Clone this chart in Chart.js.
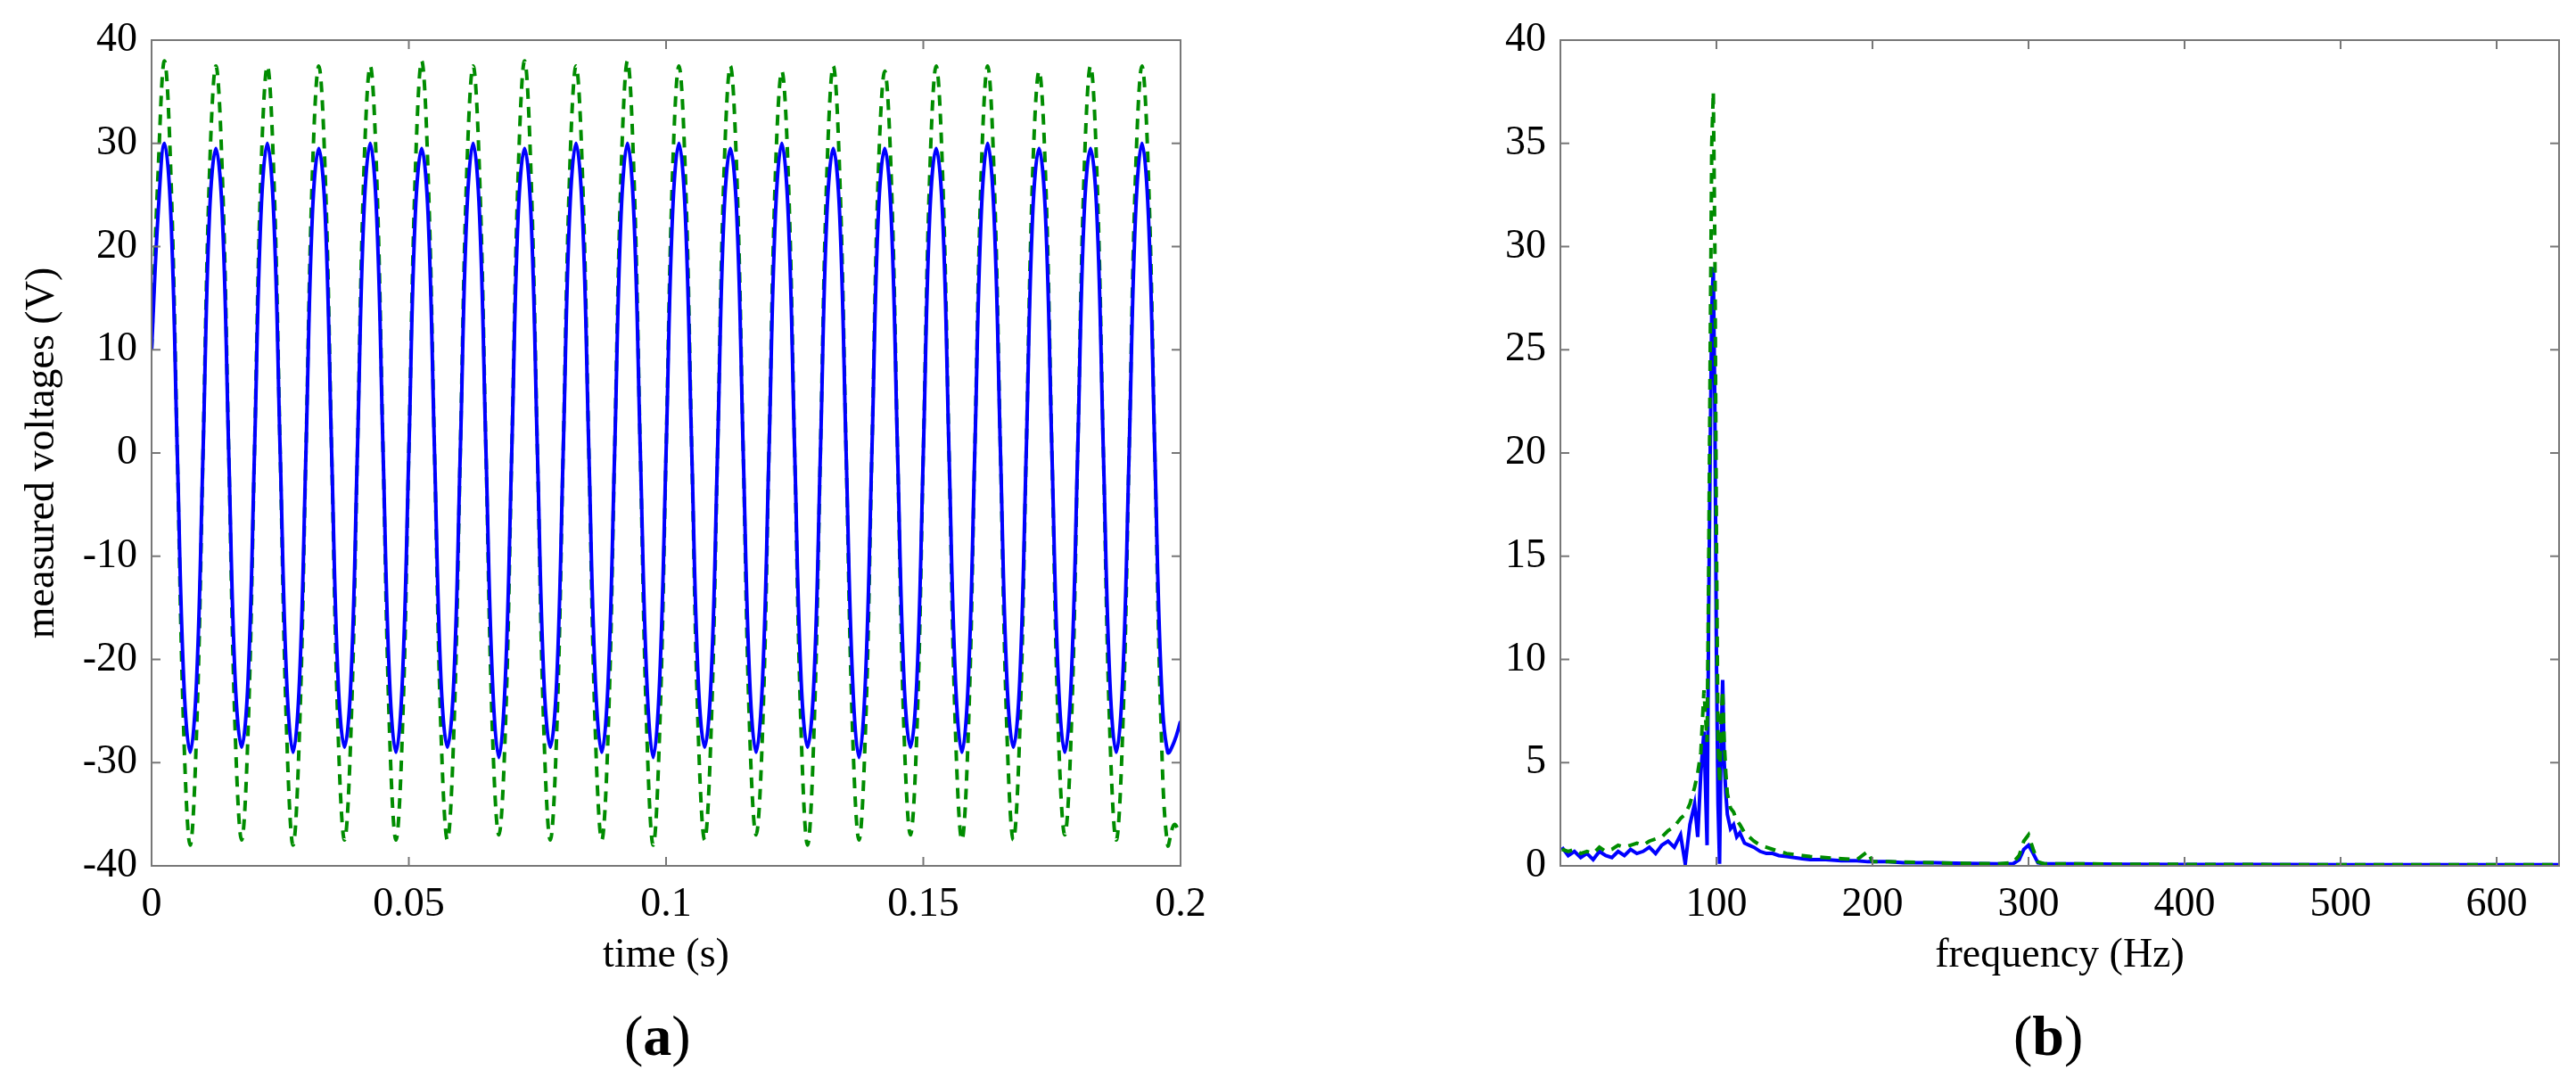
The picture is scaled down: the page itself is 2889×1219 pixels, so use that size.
<!DOCTYPE html>
<html>
<head>
<meta charset="utf-8">
<script src="https://cdn.jsdelivr.net/npm/chart.js@4/dist/chart.umd.min.js"></script>
<style>
body { margin: 0; background: #fff; width: 2889px; height: 1219px; position: relative; overflow: hidden; font-family: "Liberation Serif", serif; }
.box { position: absolute; top: 0; height: 1100px; }
.cap { position: absolute; top: 1125px; font-size: 64px; }
</style>
</head>
<body>
<div class="box" style="left:0;width:1400px"><canvas id="timeChart"></canvas></div>
<div class="box" style="left:1580px;width:1309px"><canvas id="freqChart"></canvas></div>
<div class="cap" style="left:700px">(<b>a</b>)</div>
<div class="cap" style="left:2258px">(<b>b</b>)</div>
<script>
// time signal, 8 samples per 10 ms period
var times = [];
for (var i = 0; i <= 160; i++) times.push(+(i * 0.00125).toFixed(5));
var blueVolts = [
 10,23,30,23,0,-22,-29,-22,  0,23,29.5,23,0,-22,-28.5,-22,  0,23,30,23,0,-22,-29,-22,  0,23,29.5,23,0,-22,-28.5,-22,
 0,23,30,23,0,-22,-29,-22,  0,23,29.5,23,0,-22,-28.5,-22,  0,23,30,23,0,-22,-29.5,-22,  0,23,29.5,23,0,-22,-28.5,-22,
 0,23,30,23,0,-22,-29,-22,  0,23,30,23,0,-22,-29.5,-22,  0,23,30,23,0,-22,-28.5,-22,  0,23,29.5,23,0,-22,-29,-22,
 0,23,30,23,0,-22,-28.5,-22,  0,23,29.5,23,0,-22,-29.5,-22,  0,23,29.5,23,0,-22,-28.5,-22,  0,23,29.5,23,0,-22,-29,-22,
 0,23,30,23,0,-22,-28.5,-22,  0,23,29.5,23,0,-22,-29,-22,  0,23,29.5,23,0,-22,-29,-22,  0,23,30,23,0,-22,-29,-28,
 -26
];
var greenVolts = [
 10,27,38,27,0,-27,-38,-27,  0,27,37.5,27,0,-27,-37.5,-27,  0,27,37.5,27,0,-27,-38,-27,  0,27,37.5,27,0,-27,-37.5,-27,
 0,27,37.5,27,0,-27,-37.5,-27,  0,27,38,27,0,-27,-37.5,-27,  0,27,37.5,27,0,-27,-37,-27,  0,27,38,27,0,-27,-37.5,-27,
 0,27,37.5,27,0,-27,-37.5,-27,  0,27,38,27,0,-27,-38,-27,  0,27,37.5,27,0,-27,-37.5,-27,  0,27,37.5,27,0,-27,-37,-27,
 0,27,37,27,0,-27,-38,-27,  0,27,37.5,27,0,-27,-37.5,-27,  0,27,37,27,0,-27,-37,-27,  0,27,37.5,27,0,-27,-37.5,-27,
 0,27,37.5,27,0,-27,-37.5,-27,  0,27,37,27,0,-27,-37,-27,  0,27,37.5,27,0,-27,-37.5,-27,  0,27,37.5,27,0,-27,-38,-36,
 -37
];
var timeTicks = [0, 0.05, 0.1, 0.15, 0.2];
var voltTicks = [-40, -30, -20, -10, 0, 10, 20, 30, 40];

// spectrum
var freqs = [1,5,9,13,17,21,25,29,33,37,41,45,49,53,57,61,65,69,73,77,80,83,86,88,90,92,94,95,96,97,98,99,100,101,102,103,104,105,106,107,109,111,113,115,118,121,124,128,132,136,140,145,150,155,160,170,180,190,197,200,210,220,240,260,280,290,294,297,300,303,306,310,330,360,400,450,500,550,600,640];
var blueSpec = [0.9,0.5,0.7,0.4,0.6,0.3,0.7,0.5,0.4,0.7,0.5,0.8,0.6,0.7,0.9,0.6,1.0,1.2,0.9,1.5,0.1,2.0,3.0,1.4,4.5,6.5,1.0,12,20,27,29,22,10,3,0.1,6,9,5,3.5,2.5,1.8,2.0,1.4,1.6,1.1,1.0,0.9,0.7,0.6,0.6,0.5,0.45,0.4,0.35,0.3,0.3,0.25,0.25,0.2,0.2,0.2,0.15,0.15,0.12,0.1,0.1,0.3,0.8,1.0,0.6,0.15,0.1,0.1,0.08,0.07,0.06,0.05,0.05,0.05,0.05];
var greenSpec = [0.8,0.7,0.8,0.6,0.7,0.6,0.9,0.7,0.8,1.0,0.9,1.0,1.1,1.0,1.2,1.3,1.4,1.7,1.9,2.3,2.5,3.0,3.8,4.5,5.5,8.5,6.0,14,25,35,37.5,30,16,6,4,7,8.5,6,4.5,3.5,2.8,2.6,2.2,2.0,1.6,1.4,1.2,1.0,0.9,0.8,0.7,0.6,0.55,0.5,0.45,0.4,0.35,0.3,0.7,0.2,0.2,0.18,0.15,0.12,0.1,0.15,0.5,1.2,1.5,0.8,0.2,0.1,0.1,0.08,0.07,0.06,0.05,0.05,0.05,0.05];
var freqTicks = [100, 200, 300, 400, 500, 600];
var specTicks = [0, 5, 10, 15, 20, 25, 30, 35, 40];

var FONT = 'Liberation Serif';
Chart.defaults.font.family = FONT;
Chart.defaults.color = '#000';
Chart.defaults.animation = false;

function pts(xs, ys) { return xs.map(function (x, i) { return { x: x, y: ys[i] }; }); }

// matlab style box with inward ticks
var boxPlugin = {
  id: 'box',
  afterDatasetsDraw: function (chart) {
    var a = chart.chartArea, c = chart.ctx;
    c.save();
    c.strokeStyle = '#777';
    c.lineWidth = 2;
    c.strokeRect(a.left, a.top, a.right - a.left, a.bottom - a.top);
    chart.scales.x.ticks.forEach(function (t) {
      var px = chart.scales.x.getPixelForValue(t.value);
      c.beginPath(); c.moveTo(px, a.bottom); c.lineTo(px, a.bottom - 10);
      c.moveTo(px, a.top); c.lineTo(px, a.top + 10); c.stroke();
    });
    chart.scales.y.ticks.forEach(function (t) {
      var py = chart.scales.y.getPixelForValue(t.value);
      c.beginPath(); c.moveTo(a.left, py); c.lineTo(a.left + 10, py);
      c.moveTo(a.right, py); c.lineTo(a.right - 10, py); c.stroke();
    });
    c.restore();
  }
};

function axes(xmin, xmax, xt, ymin, ymax, yt, xTitle, yTitle, yw, xh) {
  return {
    x: {
      type: 'linear', min: xmin, max: xmax,
      afterBuildTicks: function (s) { s.ticks = xt.map(function (v) { return { value: v }; }); },
      afterFit: function (s) { s.height = xh; },
      grid: { display: false }, border: { display: false },
      ticks: { font: { size: 46 }, padding: 8, maxRotation: 0, callback: function (v) { return v; } },
      title: { display: true, text: xTitle, font: { size: 46 }, padding: 0 }
    },
    y: {
      min: ymin, max: ymax,
      afterBuildTicks: function (s) { s.ticks = yt.map(function (v) { return { value: v }; }); },
      afterFit: function (s) { s.width = yw; },
      grid: { display: false }, border: { display: false },
      ticks: { font: { size: 46 }, padding: 8 },
      title: { display: !!yTitle, text: yTitle, font: { size: 46 }, padding: 0 }
    }
  };
}

new Chart(document.getElementById('timeChart'), {
  type: 'line',
  data: {
    datasets: [{
      data: pts(times, blueVolts), borderColor: 'rgb(0,0,255)', borderWidth: 4, pointRadius: 0, tension: 0.4
    }, {
      data: pts(times, greenVolts), borderColor: 'rgb(0,140,0)', borderWidth: 4, borderDash: [12, 9], pointRadius: 0, tension: 0.4
    }]
  },
  options: {
    responsive: true, maintainAspectRatio: false,
    layout: { padding: { top: 45, right: 76, left: 20 } },
    plugins: { legend: { display: false }, tooltip: { enabled: false } },
    scales: axes(0, 0.2, timeTicks, -40, 40, voltTicks, 'time (s)', 'measured voltages (V)', 150, 129)
  },
  plugins: [boxPlugin]
});

new Chart(document.getElementById('freqChart'), {
  type: 'line',
  data: {
    datasets: [{
      data: pts(freqs, greenSpec), borderColor: 'rgb(0,140,0)', borderWidth: 4, borderDash: [12, 9], pointRadius: 0
    }, {
      data: pts(freqs, blueSpec), borderColor: 'rgb(0,0,255)', borderWidth: 4, pointRadius: 0
    }]
  },
  options: {
    responsive: true, maintainAspectRatio: false,
    layout: { padding: { top: 45, right: 19 } },
    plugins: { legend: { display: false }, tooltip: { enabled: false } },
    scales: axes(0, 640, freqTicks, 0, 40, specTicks, 'frequency (Hz)', '', 170, 129)
  },
  plugins: [boxPlugin]
});
</script>
</body>
</html>
